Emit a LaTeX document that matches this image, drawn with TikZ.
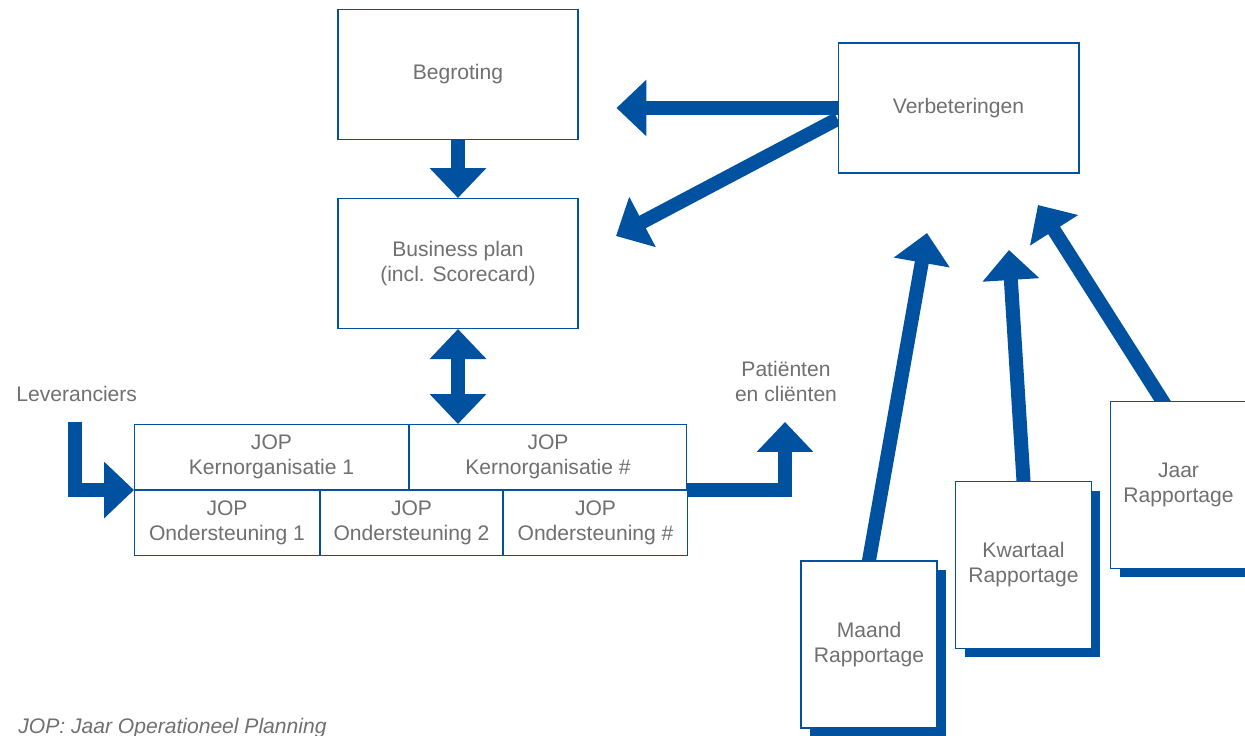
\documentclass[tikz,border=0pt]{standalone}
\usepackage{fontspec}
\setmainfont{Liberation Sans}
\usetikzlibrary{positioning,arrows.meta,shadows,backgrounds}
\definecolor{jopblue}{RGB}{0,82,160}
\definecolor{jopgray}{RGB}{112,112,112}
\tikzset{
  box/.style={draw=jopblue, line width=0.6pt, fill=white, text=jopgray, align=center, inner sep=0pt, minimum width=4.8cm, minimum height=2.6cm},
  cell/.style={box, minimum height=1.3cm},
  report/.style={box, minimum width=2.72cm, minimum height=3.34cm, drop shadow={fill=jopblue, opacity=1, shadow xshift=0.18cm, shadow yshift=-0.18cm}},
  note/.style={text=jopgray, inner sep=0pt},
  bigarrow/.style={jopblue, line width=0.28cm, -{Triangle[length=0.6cm, width=1.1cm]}},
  twoarrow/.style={bigarrow, {Triangle[length=0.6cm, width=1.1cm]}-{Triangle[length=0.6cm, width=1.1cm]}}
}
\begin{document}
\begin{tikzpicture}[x=0.02cm, y=-0.02cm, font=\fontsize{12}{14.2}\selectfont]
\useasboundingbox (0,0) rectangle (1245,736);
\node (begroting)[box] at (458,74.5) {Begroting};
\node (business)[box] [below=1.16cm of begroting] {Business plan\\(incl. Scorecard)};
\node (verb)[box, minimum width=4.82cm] at (958.5,108) {Verbeteringen};
% JOP tabel
\node (k1)[cell, minimum width=5.48cm, anchor=north west] at (134,424) {JOP\\Kernorganisatie 1};
\node (kn)[cell, minimum width=5.54cm] [right=0pt of k1] {JOP\\Kernorganisatie \#};
\node (o1)[cell, minimum width=3.7cm] [below right=0pt and 0pt of k1.south west] {JOP\\Ondersteuning 1};
\node (o2)[cell, minimum width=3.64cm] [right=0pt of o1] {JOP\\Ondersteuning 2};
\node (o3)[cell, minimum width=3.68cm] [right=0pt of o2] {JOP\\Ondersteuning \#};
\node (lev)[note, anchor=base west] at (16,402) {Leveranciers};
\node (pat)[note, align=center] at (786,381) {Patiënten\\en cliënten};
% rapportages
\node (jaar)[report] at (1178.5,485) {Jaar\\Rapportage};
\node (kwart)[report] at (1023.5,565) {Kwartaal\\Rapportage};
\node (maand)[report] at (869,644.5) {Maand\\Rapportage};
\node (foot)[note, anchor=base west, font=\fontsize{12}{14.2}\selectfont\itshape] at (18,733) {JOP: Jaar Operationeel Planning};
\coordinate (levstart) at (75,422);
\coordinate (patend) at (785,422);
\coordinate (bpin) at (616,236);
\coordinate (maandtip) at (927,233);
\coordinate (kwarttip) at (1009,250);
\coordinate (jaartip) at (1038,205);
\begin{scope}[on background layer]
\draw[bigarrow] (begroting) -- (business);
\draw[twoarrow] (business.south) -- (business.south |- kn.north);
\draw[bigarrow, shorten >=0.76cm] (verb.west) -- (verb.west -| begroting.east);
\draw[bigarrow] ([yshift=-0.22cm]verb.west) -- (bpin);
\draw[bigarrow] (levstart) |- (k1.south west);
\draw[bigarrow] (kn.south east) -| (patend);
\draw[bigarrow, shorten <=-0.3cm] (maand.north) -- (maandtip);
\draw[bigarrow, shorten <=-0.3cm] (kwart.north) -- (kwarttip);
\draw[bigarrow, shorten <=-0.3cm] ([xshift=-0.32cm]jaar.north) -- (jaartip);
\end{scope}
\end{tikzpicture}
\end{document}
